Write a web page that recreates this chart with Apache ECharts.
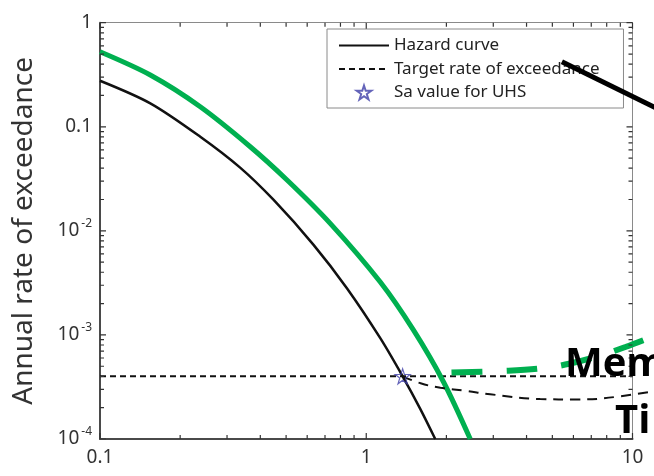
<!DOCTYPE html>
<html>
<head>
<meta charset="UTF-8">
<title>Hazard curve</title>
<script src="https://cdn.jsdelivr.net/npm/echarts@6/dist/echarts.min.js"></script>
</head>
<body style="margin:0;background:#fff;">
<div id="chart1" style="width:654px;height:476px;"></div>
<script type="text/javascript">
// tick values of the two log axes
var xTicks = [0.1, 1, 10];
var yTicks = [1e-4, 1e-3, 1e-2, 0.1, 1];

// hazard curve (black) and the shifted curve (green)
var hazardSa = [0.1, 0.1545, 0.238, 0.336, 0.449, 0.634, 0.846, 1.129, 1.373, 1.595, 1.816];
var hazardRate = [0.277, 0.168, 0.0802, 0.0405, 0.0198, 0.00734, 0.00281, 9.3e-4, 3.96e-4, 1.95e-4, 1.0e-4];
var shiftedSa = [0.1, 0.1545, 0.238, 0.3667, 0.504, 0.732, 1.129, 1.505, 1.951, 2.458];
var shiftedRate = [0.525, 0.314, 0.1556, 0.0643, 0.0308, 0.0118, 0.00322, 0.00111, 3.53e-4, 1.0e-4];

// target rate of exceedance and UHS point
var targetSa = [0.1, 10];
var targetRate = [4e-4, 4e-4];
var uhsPoint = [1.37, 4e-4];

// dashed "memory" curves that run off the right edge
var memSa = [1.37, 1.6, 1.9, 2.39, 2.92, 4.5, 6.2, 7.78, 11.65];
var memRate = [4.0e-4, 3.43e-4, 3.11e-4, 2.89e-4, 2.69e-4, 2.42e-4, 2.4e-4, 2.46e-4, 2.83e-4];
var greenMemSa = [2.09, 3.19, 4.5, 5.84, 7.56, 9.4, 12.06];
var greenMemRate = [4.35e-4, 4.5e-4, 4.76e-4, 5.31e-4, 6.34e-4, 7.65e-4, 9.76e-4];

// callout line from the legend
var arrowSa = [5.43, 12.5];
var arrowRate = [0.421, 0.148];

function pairs(xs, ys) {
    return xs.map(function (x, i) { return [x, ys[i]]; });
}
// 2..9 inside each decade
function minorValues(majors) {
    var res = [];
    for (var i = 0; i < majors.length - 1; i++) {
        for (var k = 2; k <= 9; k++) res.push(majors[i] * k);
    }
    return res;
}

var W = 654, H = 476, GL = 100, GR = 21.5, GT = 22.7, GB = 37;
var xLo = xTicks[0], xHi = xTicks[xTicks.length - 1];
var yLo = yTicks[0], yHi = yTicks[yTicks.length - 1];
var plotW = W - GL - GR, plotH = H - GT - GB;
var pxPerDecX = plotW / (Math.log10(xHi) - Math.log10(xLo));
var pxPerDecY = plotH / (Math.log10(yHi) - Math.log10(yLo));
// the overflow grid runs to the right edge with the same px per decade
var overflowMax = Math.pow(10, Math.log10(xLo) + (W - GL) / pxPerDecX);

var font = 'Noto Sans';
var green = '#00b050';
var star = 'path://M50,2 L61,36 L97,36 L68,57 L79,92 L50,71 L21,92 L32,57 L3,36 L39,36 Z';
var dark = '#4a4a4a', light = '#8a8a8a', tickCol = '#333';

// inward tick marks on all four sides as short broken line segments
var tickData = [];
function xTickSeg(v, len) {
    var f = Math.pow(10, len / pxPerDecY);
    tickData.push([v, yLo], [v, yLo * f], [v, '-'], [v, yHi], [v, yHi / f], [v, '-']);
}
function yTickSeg(v, len) {
    var f = Math.pow(10, len / pxPerDecX);
    tickData.push([xLo, v], [xLo * f, v], ['-', v], [xHi, v], [xHi / f, v], ['-', v]);
}
xTicks.forEach(function (v) { xTickSeg(v, 6); });
minorValues(xTicks).forEach(function (v) { xTickSeg(v, 4); });
yTicks.forEach(function (v) { yTickSeg(v, 6); });
minorValues(yTicks).forEach(function (v) { yTickSeg(v, 4); });

function mainX(pos) {
    var bottom = pos === 'bottom';
    return {
        type: 'log', min: xLo, max: xHi, position: pos,
        axisLine: { show: true, onZero: false, lineStyle: { color: bottom ? dark : light, width: bottom ? 2 : 1 } },
        axisTick: { show: false },
        axisLabel: { show: bottom, customValues: xTicks, margin: 9,
            fontFamily: font, fontSize: 19, color: '#333',
            formatter: function (v) { return v >= 1 ? String(Math.round(v)) : '0.1'; } },
        splitLine: { show: false }
    };
}
function mainY(pos) {
    var left = pos === 'left';
    var ax = {
        type: 'log', min: yLo, max: yHi, position: pos,
        axisLine: { show: true, onZero: false, lineStyle: { color: left ? dark : light, width: left ? 2 : 1 } },
        axisTick: { show: false },
        axisLabel: { show: left, customValues: yTicks, margin: 8,
            fontFamily: font, fontSize: 19, color: '#333',
            formatter: function (v) {
                if (v >= 0.99) return '1';
                if (v >= 0.099) return '0.1';
                return '{b|10}{s|-' + Math.round(-Math.log10(v)) + '}';
            },
            rich: {
                b: { fontFamily: font, fontSize: 19, color: '#333' },
                s: { fontFamily: font, fontSize: 12, color: '#333', padding: [0, 0, 14, 2] }
            } },
        splitLine: { show: false }
    };
    if (left) {
        ax.name = 'Annual rate of exceedance';
        ax.nameLocation = 'middle';
        ax.nameGap = 62;
        ax.nameTextStyle = { fontFamily: font, fontSize: 28, color: '#333' };
    }
    return ax;
}

var chart1 = echarts.init(document.getElementById('chart1'), null, { renderer: 'canvas' });
var option = {
    animation: false,
    backgroundColor: '#fff',
    grid: [
        { left: GL, right: GR, top: GT, bottom: GB, containLabel: false, outerBoundsMode: 'none' },
        { left: GL, right: 0, top: GT, bottom: GB, containLabel: false, outerBoundsMode: 'none' }
    ],
    xAxis: [mainX('bottom'), mainX('top'),
        { type: 'log', gridIndex: 1, min: xLo, max: overflowMax, show: false }],
    yAxis: [mainY('left'), mainY('right'),
        { type: 'log', gridIndex: 1, min: yLo, max: yHi, show: false }],
    legend: {
        orient: 'vertical', left: 327, top: 29,
        padding: [8, 24, 7, 11], itemGap: 6.5, itemWidth: 50, itemHeight: 14,
        borderColor: light, borderWidth: 1, borderRadius: 0, backgroundColor: '#fff',
        textStyle: { fontFamily: font, fontSize: 17, color: '#222' },
        data: [
            { name: 'Hazard curve', itemStyle: { opacity: 0 } },
            { name: 'Target rate of exceedance', itemStyle: { opacity: 0 } },
            { name: 'Sa value for UHS' }
        ]
    },
    series: [
        { name: 'Ticks', type: 'line', data: tickData, connectNulls: false, silent: true, z: 5,
          symbol: 'none', lineStyle: { color: tickCol, width: 1.2 } },
        { name: 'Hazard curve', type: 'line', data: pairs(hazardSa, hazardRate), smooth: 0.3,
          symbol: 'none', lineStyle: { color: '#111', width: 2.5 }, itemStyle: { color: '#111' } },
        { name: 'Target rate of exceedance', type: 'line', data: pairs(targetSa, targetRate),
          symbol: 'none', lineStyle: { color: '#111', width: 2, type: [6, 4] }, itemStyle: { color: '#111' } },
        { name: 'Shifted', type: 'line', data: pairs(shiftedSa, shiftedRate), smooth: 0.3,
          symbol: 'none', lineStyle: { color: green, width: 5 }, z: 3 },
        { name: 'Memory', type: 'line', xAxisIndex: 2, yAxisIndex: 2, data: pairs(memSa, memRate), smooth: 0.4,
          symbol: 'none', lineStyle: { color: '#111', width: 2, type: [10, 7] } },
        { name: 'Memory green', type: 'line', xAxisIndex: 2, yAxisIndex: 2, data: pairs(greenMemSa, greenMemRate), smooth: 0.4,
          symbol: 'none', lineStyle: { color: green, width: 6, type: [31, 24] }, z: 3 },
        { name: 'Sa value for UHS', type: 'scatter', data: [uhsPoint], symbol: star, symbolSize: 15, z: 4,
          itemStyle: { color: 'rgba(0,0,0,0)', borderColor: '#3d3da8', borderWidth: 1.2 } },
        { name: 'Callout', type: 'line', xAxisIndex: 2, yAxisIndex: 2, data: pairs(arrowSa, arrowRate), z: 10,
          symbol: 'none', lineStyle: { color: '#000', width: 5 } }
    ],
    graphic: [
        { type: 'text', z: 20, left: 565, top: 345, style: { text: 'Mem', fontFamily: 'Open Sans', fontWeight: 'bold', fontSize: 40, fill: '#000' } },
        { type: 'text', z: 20, left: 615, top: 402, style: { text: 'Ti', fontFamily: 'Open Sans', fontWeight: 'bold', fontSize: 40, fill: '#000' } }
    ]
};
chart1.setOption(option);
</script>
</body>
</html>
